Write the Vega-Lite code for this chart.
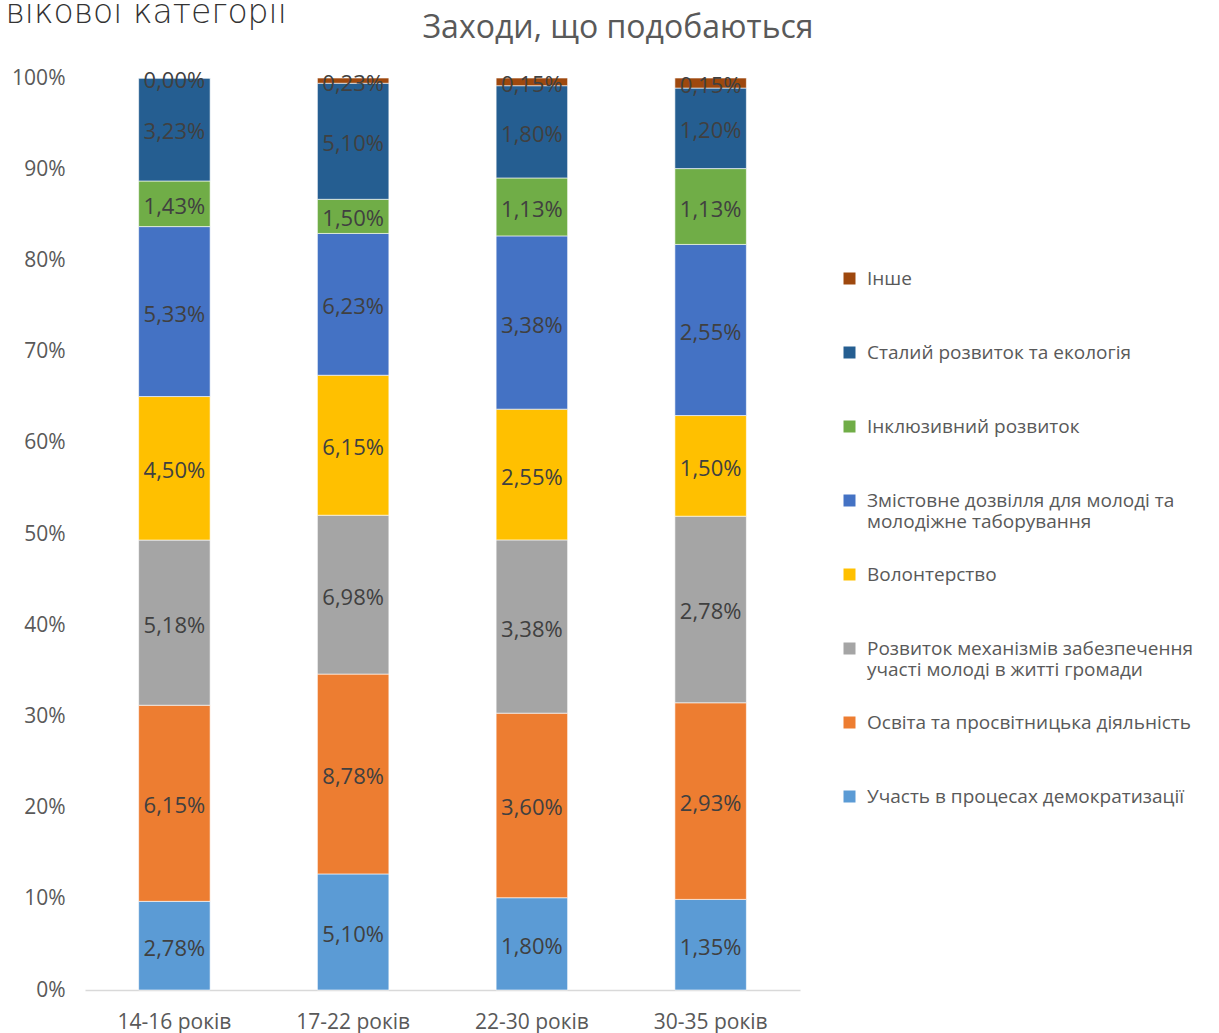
{
  "$schema": "https://vega.github.io/schema/vega-lite/v6.json",
  "width": 715,
  "height": 912,
  "autosize": {"type": "none"},
  "padding": {"left": 85, "top": 78, "right": 419, "bottom": 43},
  "background": "white",
  "config": {"view": {"stroke": null}},
  "title": {
    "text": "Заходи, що подобаються",
    "anchor": "middle",
    "frame": "bounds",
    "font": "Open Sans",
    "fontSize": 32,
    "fontWeight": "normal",
    "color": "#595959",
    "baseline": "alphabetic",
    "offset": 0,
    "dy": 74,
    "dx": 19
  },
  "data": {
    "values": [
      {"age": "14-16 років", "category": "Участь в процесах демократизації", "value": 2.78},
      {"age": "14-16 років", "category": "Освіта та просвітницька діяльність", "value": 6.15},
      {"age": "14-16 років", "category": "Розвиток механізмів забезпечення участі молоді в житті громади", "value": 5.18},
      {"age": "14-16 років", "category": "Волонтерство", "value": 4.50},
      {"age": "14-16 років", "category": "Змістовне дозвілля для молоді та молодіжне таборування", "value": 5.33},
      {"age": "14-16 років", "category": "Інклюзивний розвиток", "value": 1.43},
      {"age": "14-16 років", "category": "Сталий розвиток та екологія", "value": 3.23},
      {"age": "14-16 років", "category": "Інше", "value": 0.00},
      {"age": "17-22 років", "category": "Участь в процесах демократизації", "value": 5.10},
      {"age": "17-22 років", "category": "Освіта та просвітницька діяльність", "value": 8.78},
      {"age": "17-22 років", "category": "Розвиток механізмів забезпечення участі молоді в житті громади", "value": 6.98},
      {"age": "17-22 років", "category": "Волонтерство", "value": 6.15},
      {"age": "17-22 років", "category": "Змістовне дозвілля для молоді та молодіжне таборування", "value": 6.23},
      {"age": "17-22 років", "category": "Інклюзивний розвиток", "value": 1.50},
      {"age": "17-22 років", "category": "Сталий розвиток та екологія", "value": 5.10},
      {"age": "17-22 років", "category": "Інше", "value": 0.23},
      {"age": "22-30 років", "category": "Участь в процесах демократизації", "value": 1.80},
      {"age": "22-30 років", "category": "Освіта та просвітницька діяльність", "value": 3.60},
      {"age": "22-30 років", "category": "Розвиток механізмів забезпечення участі молоді в житті громади", "value": 3.38},
      {"age": "22-30 років", "category": "Волонтерство", "value": 2.55},
      {"age": "22-30 років", "category": "Змістовне дозвілля для молоді та молодіжне таборування", "value": 3.38},
      {"age": "22-30 років", "category": "Інклюзивний розвиток", "value": 1.13},
      {"age": "22-30 років", "category": "Сталий розвиток та екологія", "value": 1.80},
      {"age": "22-30 років", "category": "Інше", "value": 0.15},
      {"age": "30-35 років", "category": "Участь в процесах демократизації", "value": 1.35},
      {"age": "30-35 років", "category": "Освіта та просвітницька діяльність", "value": 2.93},
      {"age": "30-35 років", "category": "Розвиток механізмів забезпечення участі молоді в житті громади", "value": 2.78},
      {"age": "30-35 років", "category": "Волонтерство", "value": 1.50},
      {"age": "30-35 років", "category": "Змістовне дозвілля для молоді та молодіжне таборування", "value": 2.55},
      {"age": "30-35 років", "category": "Інклюзивний розвиток", "value": 1.13},
      {"age": "30-35 років", "category": "Сталий розвиток та екологія", "value": 1.20},
      {"age": "30-35 років", "category": "Інше", "value": 0.15}
    ]
  },
  "transform": [
    {"calculate": "indexof(['Участь в процесах демократизації','Освіта та просвітницька діяльність','Розвиток механізмів забезпечення участі молоді в житті громади','Волонтерство','Змістовне дозвілля для молоді та молодіжне таборування','Інклюзивний розвиток','Сталий розвиток та екологія','Інше'], datum.category)", "as": "idx"},
    {"stack": "value", "groupby": ["age"], "sort": [{"field": "idx", "order": "ascending"}], "offset": "normalize", "as": ["y0", "y1"]},
    {"calculate": "(datum.y0 + datum.y1) / 2", "as": "ymid"},
    {"calculate": "replace(format(datum.value, '.2f'), '.', ',') + '%'", "as": "label"}
  ],
  "encoding": {
    "x": {
      "field": "age",
      "type": "nominal",
      "sort": ["14-16 років", "17-22 років", "22-30 років", "30-35 років"],
      "scale": {"paddingInner": 0.6, "paddingOuter": 0.3},
      "axis": {
        "title": null,
        "labelAngle": 0,
        "labelFont": "Open Sans",
        "labelFontSize": 21,
        "labelColor": "#595959",
        "labelPadding": 21,
        "ticks": false,
        "domainColor": "#D9D9D9",
        "domainWidth": 1.5
      }
    }
  },
  "layer": [
    {
      "mark": {"type": "bar", "stroke": "white", "strokeWidth": 0.6},
      "encoding": {
        "y": {
          "field": "y0",
          "type": "quantitative",
          "scale": {"domain": [0, 1], "nice": false},
          "axis": {
            "title": "вікової категорії",
            "titleAngle": 0,
            "titleAlign": "left",
            "titleBaseline": "alphabetic",
            "titleX": -80,
            "titleY": -56,
            "titleFont": "DejaVu Sans",
            "titleFontSize": 33,
            "titleFontWeight": 300,
            "titleColor": "#333333",
            "values": [0, 0.1, 0.2, 0.3, 0.4, 0.5, 0.6, 0.7, 0.8, 0.9, 1],
            "format": ".0%",
            "grid": false,
            "domain": false,
            "ticks": false,
            "labelPadding": 20,
            "labelFont": "Open Sans",
            "labelFontSize": 21,
            "labelColor": "#595959"
          }
        },
        "y2": {"field": "y1"},
        "color": {
          "field": "category",
          "type": "nominal",
          "scale": {
            "domain": ["Інше", "Сталий розвиток та екологія", "Інклюзивний розвиток", "Змістовне дозвілля для молоді та молодіжне таборування", "Волонтерство", "Розвиток механізмів забезпечення участі молоді в житті громади", "Освіта та просвітницька діяльність", "Участь в процесах демократизації"],
            "range": ["#9E480E", "#255E91", "#70AD47", "#4472C4", "#FFC000", "#A5A5A5", "#ED7D31", "#5B9BD5"]
          },
          "legend": {
            "title": null,
            "orient": "none",
            "legendX": 755,
            "legendY": 191,
            "symbolType": "square",
            "symbolSize": 144,
            "symbolStrokeWidth": 0,
            "labelFont": "Open Sans",
            "labelFontSize": 19,
            "labelColor": "#595959",
            "labelLimit": 420,
            "labelOffset": 8,
            "gridAlign": "all",
            "rowPadding": 33,
            "labelExpr": "datum.label == 'Змістовне дозвілля для молоді та молодіжне таборування' ? ['Змістовне дозвілля для молоді та', 'молодіжне таборування'] : datum.label == 'Розвиток механізмів забезпечення участі молоді в житті громади' ? ['Розвиток механізмів забезпечення', 'участі молоді в житті громади'] : datum.label"
          }
        }
      }
    },
    {
      "mark": {"type": "text", "font": "Open Sans", "fontSize": 22, "color": "#404040", "dy": 3},
      "encoding": {
        "y": {"field": "ymid", "type": "quantitative"},
        "text": {"field": "label"}
      }
    }
  ]
}
